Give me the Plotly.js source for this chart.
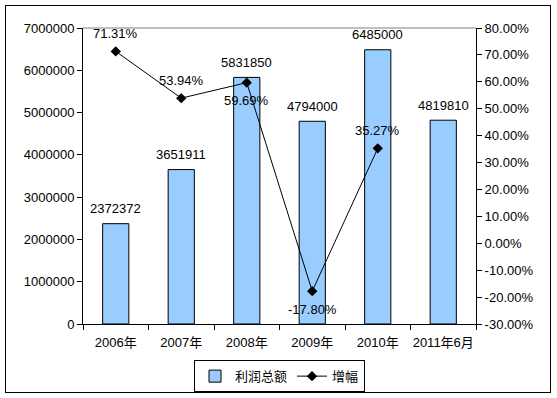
<!DOCTYPE html>
<html>
<head>
<meta charset="utf-8">
<script src="https://cdn.plot.ly/plotly-3.0.1.min.js"></script>
<style>
html,body{margin:0;padding:0;background:#fff;}
#wrap{position:relative;width:557px;height:398px;}
#chart{width:557px;height:398px;}
#frame{position:absolute;left:5px;top:5px;width:544px;height:386px;border:1px solid #000;pointer-events:none;}
</style>
</head>
<body>
<div id="wrap"><div id="chart"></div><div id="frame"></div></div>
<script>
var categories = ['2006年','2007年','2008年','2009年','2010年','2011年6月'];
var profitTotal = [2372372, 3651911, 5831850, 4794000, 6485000, 4819810];
var growthPct = [71.31, 53.94, 59.69, -17.80, 35.27, null];
var growthLabelSide = [1, 1, -1, -1, 1, 1];   // 1 = above point, -1 = below
var leftTicks = [0,1000000,2000000,3000000,4000000,5000000,6000000,7000000];
var rightTicks = [-30,-20,-10,0,10,20,30,40,50,60,70,80];

var fontFam = '"Liberation Sans", Arial, "Noto Sans CJK SC", sans-serif';
var labelFont = {family: fontFam, size: 13, color: '#000'};

var barTrace = {
  type: 'bar',
  name: '利润总额',
  x: categories,
  y: profitTotal,
  marker: {color: '#99CCFF', line: {color: '#000', width: 1}},
  hoverinfo: 'x+y'
};
var lineTrace = {
  type: 'scatter',
  mode: 'lines+markers',
  name: '增幅',
  x: categories,
  y: growthPct,
  yaxis: 'y2',
  line: {color: '#000', width: 1},
  marker: {symbol: 'diamond', size: 8, color: '#000'},
  connectgaps: false
};

var annotations = [];
categories.forEach(function(c, i){
  annotations.push({
    x: c, y: profitTotal[i], xref: 'x', yref: 'y',
    text: String(profitTotal[i]), showarrow: false,
    yanchor: 'middle', yshift: 15, font: labelFont
  });
  if (growthPct[i] !== null) {
    annotations.push({
      x: c, y: growthPct[i], xref: 'x', yref: 'y2',
      text: growthPct[i].toFixed(2) + '%', showarrow: false,
      yanchor: 'middle', yshift: 18 * growthLabelSide[i], font: labelFont
    });
  }
});

var layout = {
  width: 557, height: 398,
  margin: {l: 83, r: 81, t: 28, b: 74},
  paper_bgcolor: '#fff', plot_bgcolor: '#fff',
  font: {family: fontFam, size: 13, color: '#000'},
  bargap: 0.6,
  showlegend: true,
  legend: {
    orientation: 'h', x: 0.5, xanchor: 'center',
    yref: 'container', y: 0.095, yanchor: 'top',
    bordercolor: '#000', borderwidth: 1, font: {family: fontFam, size: 13, color: '#000'},
    tracegroupgap: 0
  },
  xaxis: {
    type: 'category',
    automargin: false,
    tickangle: 0,
    ticklabelstandoff: 6,
    showline: true, linecolor: '#000', linewidth: 1,
    ticks: 'outside', ticklen: 5, tickcolor: '#000', tickson: 'boundaries',
    showgrid: false, zeroline: false,
    tickfont: {family: fontFam, size: 13, color: '#000'}
  },
  yaxis: {
    automargin: false,
    range: [0, 7000000],
    tickvals: leftTicks,
    ticktext: leftTicks.map(function(v){return String(v);}),
    showline: true, linecolor: '#000', linewidth: 1,
    ticks: 'outside', ticklen: 5, tickcolor: '#000',
    showgrid: false, zeroline: false,
    tickfont: {family: fontFam, size: 13, color: '#000'}
  },
  yaxis2: {
    automargin: false,
    overlaying: 'y', side: 'right',
    range: [-30, 80],
    tickvals: rightTicks,
    ticktext: rightTicks.map(function(v){return v.toFixed(2)+'%';}),
    showline: true, linecolor: '#000', linewidth: 1,
    ticks: 'outside', ticklen: 5, tickcolor: '#000',
    showgrid: false, zeroline: false,
    tickfont: {family: fontFam, size: 13, color: '#000'}
  },
  annotations: annotations,
  shapes: [{
    type: 'line', xref: 'paper', yref: 'paper', x0: 0, x1: 1, y0: 1, y1: 1,
    line: {color: '#808080', width: 1}
  }]
};

Plotly.newPlot('chart', [barTrace, lineTrace], layout, {displayModeBar: false, staticPlot: true});
</script>
</body>
</html>
